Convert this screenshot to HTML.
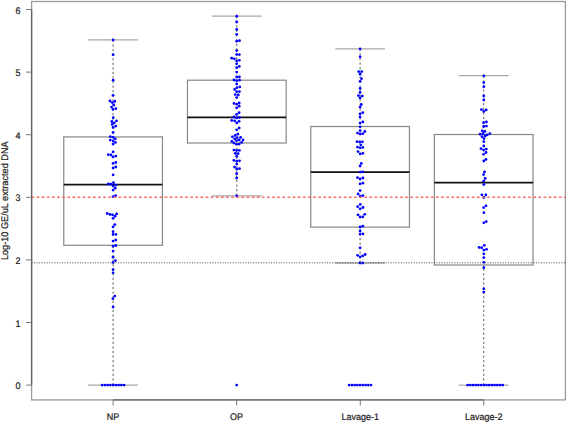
<!DOCTYPE html><html><head><meta charset="utf-8"><style>html,body{margin:0;padding:0;background:#fff;}svg{display:block;}text{font-family:"Liberation Sans",sans-serif;font-size:9.6px;text-rendering:geometricPrecision;fill:#222;stroke:#222;stroke-width:0.22px;}</style></head><body>
<svg width="567" height="423" viewBox="0 0 567 423">
<rect x="0" y="0" width="567" height="423" fill="#fff"/>
<rect x="31.6" y="1.5" width="533.8" height="398.4" fill="none" stroke="#9a9a9a" stroke-width="1.3"/>
<line x1="113.1" y1="39.9" x2="113.1" y2="136.9" stroke="#5a5a5a" stroke-width="1" stroke-dasharray="2.2 2.37"/>
<line x1="113.1" y1="385.1" x2="113.1" y2="245.3" stroke="#5a5a5a" stroke-width="1" stroke-dasharray="2.2 2.37"/>
<line x1="88.2" y1="39.9" x2="138" y2="39.9" stroke="#a8a8a8" stroke-width="1.3"/>
<line x1="88.2" y1="385.1" x2="138" y2="385.1" stroke="#a8a8a8" stroke-width="1.3"/>
<rect x="63.75" y="136.9" width="98.7" height="108.4" fill="none" stroke="#888888" stroke-width="1.2"/>
<line x1="63.75" y1="184.6" x2="162.45" y2="184.6" stroke="#111" stroke-width="1.8"/>
<line x1="236.8" y1="16.2" x2="236.8" y2="80.2" stroke="#5a5a5a" stroke-width="1" stroke-dasharray="2.2 2.37"/>
<line x1="236.8" y1="195.8" x2="236.8" y2="143" stroke="#5a5a5a" stroke-width="1" stroke-dasharray="2.2 2.37"/>
<line x1="211.9" y1="16.2" x2="261.7" y2="16.2" stroke="#a8a8a8" stroke-width="1.3"/>
<line x1="211.9" y1="195.8" x2="261.7" y2="195.8" stroke="#a8a8a8" stroke-width="1.3"/>
<rect x="187.45" y="80.2" width="98.7" height="62.8" fill="none" stroke="#888888" stroke-width="1.2"/>
<line x1="187.45" y1="117.4" x2="286.15" y2="117.4" stroke="#111" stroke-width="1.8"/>
<line x1="360.1" y1="48.8" x2="360.1" y2="126.5" stroke="#5a5a5a" stroke-width="1" stroke-dasharray="2.2 2.37"/>
<line x1="360.1" y1="263" x2="360.1" y2="227.1" stroke="#5a5a5a" stroke-width="1" stroke-dasharray="2.2 2.37"/>
<line x1="335.2" y1="48.8" x2="385" y2="48.8" stroke="#a8a8a8" stroke-width="1.3"/>
<line x1="335.2" y1="263" x2="385" y2="263" stroke="#a8a8a8" stroke-width="1.3"/>
<rect x="310.75" y="126.5" width="98.7" height="100.6" fill="none" stroke="#888888" stroke-width="1.2"/>
<line x1="310.75" y1="172.2" x2="409.45" y2="172.2" stroke="#111" stroke-width="1.8"/>
<line x1="483.7" y1="75.7" x2="483.7" y2="134.5" stroke="#5a5a5a" stroke-width="1" stroke-dasharray="2.2 2.37"/>
<line x1="483.7" y1="385.1" x2="483.7" y2="265" stroke="#5a5a5a" stroke-width="1" stroke-dasharray="2.2 2.37"/>
<line x1="458.8" y1="75.7" x2="508.6" y2="75.7" stroke="#a8a8a8" stroke-width="1.3"/>
<line x1="458.8" y1="385.1" x2="508.6" y2="385.1" stroke="#a8a8a8" stroke-width="1.3"/>
<rect x="434.35" y="134.5" width="98.7" height="130.5" fill="none" stroke="#888888" stroke-width="1.2"/>
<line x1="434.35" y1="182.7" x2="533.05" y2="182.7" stroke="#111" stroke-width="1.8"/>
<line x1="31.6" y1="9.5" x2="31.6" y2="385.1" stroke="#606060" stroke-width="1.3"/>
<line x1="113.1" y1="399.9" x2="483.7" y2="399.9" stroke="#666" stroke-width="1.3"/>
<line x1="26" y1="385.1" x2="31.6" y2="385.1" stroke="#777" stroke-width="1"/>
<text transform="translate(20.6,389.1) scale(0.9375,1)" text-anchor="end">0</text>
<line x1="26" y1="322.5" x2="31.6" y2="322.5" stroke="#777" stroke-width="1"/>
<text transform="translate(20.6,326.5) scale(0.9375,1)" text-anchor="end">1</text>
<line x1="26" y1="259.9" x2="31.6" y2="259.9" stroke="#777" stroke-width="1"/>
<text transform="translate(20.6,263.9) scale(0.9375,1)" text-anchor="end">2</text>
<line x1="26" y1="197.3" x2="31.6" y2="197.3" stroke="#777" stroke-width="1"/>
<text transform="translate(20.6,201.3) scale(0.9375,1)" text-anchor="end">3</text>
<line x1="26" y1="134.7" x2="31.6" y2="134.7" stroke="#777" stroke-width="1"/>
<text transform="translate(20.6,138.7) scale(0.9375,1)" text-anchor="end">4</text>
<line x1="26" y1="72.1" x2="31.6" y2="72.1" stroke="#777" stroke-width="1"/>
<text transform="translate(20.6,76.1) scale(0.9375,1)" text-anchor="end">5</text>
<line x1="26" y1="9.5" x2="31.6" y2="9.5" stroke="#777" stroke-width="1"/>
<text transform="translate(20.6,13.5) scale(0.9375,1)" text-anchor="end">6</text>
<line x1="113.1" y1="399.9" x2="113.1" y2="405.5" stroke="#777" stroke-width="1"/>
<text transform="translate(113.1,419.5) scale(0.9375,1)" text-anchor="middle">NP</text>
<line x1="236.6" y1="399.9" x2="236.6" y2="405.5" stroke="#777" stroke-width="1"/>
<text transform="translate(236.6,419.5) scale(0.9375,1)" text-anchor="middle">OP</text>
<line x1="360.3" y1="399.9" x2="360.3" y2="405.5" stroke="#777" stroke-width="1"/>
<text transform="translate(360.3,419.5) scale(0.9375,1)" text-anchor="middle">Lavage-1</text>
<line x1="483.7" y1="399.9" x2="483.7" y2="405.5" stroke="#777" stroke-width="1"/>
<text transform="translate(483.7,419.5) scale(0.9375,1)" text-anchor="middle">Lavage-2</text>
<text transform="translate(8.0,200.75) rotate(-90) scale(0.954,1)" text-anchor="middle">Log-10 GE/uL extracted DNA</text>
<circle cx="113.1" cy="39.9" r="1.4" fill="#0000ff"/>
<circle cx="113.1" cy="54.7" r="1.4" fill="#0000ff"/>
<circle cx="113.1" cy="80.2" r="1.4" fill="#0000ff"/>
<circle cx="113.1" cy="95.3" r="1.4" fill="#0000ff"/>
<circle cx="110" cy="101" r="1.4" fill="#0000ff"/>
<circle cx="114.8" cy="101.4" r="1.4" fill="#0000ff"/>
<circle cx="112.3" cy="102.6" r="1.4" fill="#0000ff"/>
<circle cx="113.8" cy="105" r="1.4" fill="#0000ff"/>
<circle cx="111.5" cy="107.1" r="1.4" fill="#0000ff"/>
<circle cx="115.8" cy="108.7" r="1.4" fill="#0000ff"/>
<circle cx="113" cy="109.4" r="1.4" fill="#0000ff"/>
<circle cx="113.2" cy="117.7" r="1.4" fill="#0000ff"/>
<circle cx="116.5" cy="120.8" r="1.4" fill="#0000ff"/>
<circle cx="111.8" cy="121.5" r="1.4" fill="#0000ff"/>
<circle cx="114.3" cy="122.8" r="1.4" fill="#0000ff"/>
<circle cx="112.2" cy="124.4" r="1.4" fill="#0000ff"/>
<circle cx="115.8" cy="126.1" r="1.4" fill="#0000ff"/>
<circle cx="113.2" cy="127.4" r="1.4" fill="#0000ff"/>
<circle cx="113.1" cy="132.5" r="1.4" fill="#0000ff"/>
<circle cx="110.3" cy="136.7" r="1.4" fill="#0000ff"/>
<circle cx="113.1" cy="137.3" r="1.4" fill="#0000ff"/>
<circle cx="115.3" cy="138.8" r="1.4" fill="#0000ff"/>
<circle cx="110.3" cy="140.1" r="1.4" fill="#0000ff"/>
<circle cx="113.1" cy="140.8" r="1.4" fill="#0000ff"/>
<circle cx="115.4" cy="142.4" r="1.4" fill="#0000ff"/>
<circle cx="113.1" cy="144" r="1.4" fill="#0000ff"/>
<circle cx="113.1" cy="151.9" r="1.4" fill="#0000ff"/>
<circle cx="108.3" cy="154.7" r="1.4" fill="#0000ff"/>
<circle cx="111" cy="155" r="1.4" fill="#0000ff"/>
<circle cx="113.1" cy="156.9" r="1.4" fill="#0000ff"/>
<circle cx="115.8" cy="156.1" r="1.4" fill="#0000ff"/>
<circle cx="113.1" cy="163.4" r="1.4" fill="#0000ff"/>
<circle cx="115.8" cy="162.5" r="1.4" fill="#0000ff"/>
<circle cx="113.1" cy="168" r="1.4" fill="#0000ff"/>
<circle cx="115.8" cy="167" r="1.4" fill="#0000ff"/>
<circle cx="113.1" cy="174.8" r="1.4" fill="#0000ff"/>
<circle cx="108.3" cy="183.9" r="1.4" fill="#0000ff"/>
<circle cx="110.8" cy="184.1" r="1.4" fill="#0000ff"/>
<circle cx="113.5" cy="182.7" r="1.4" fill="#0000ff"/>
<circle cx="113.1" cy="186" r="1.4" fill="#0000ff"/>
<circle cx="115.8" cy="185.1" r="1.4" fill="#0000ff"/>
<circle cx="115.2" cy="188.2" r="1.4" fill="#0000ff"/>
<circle cx="113.1" cy="190.1" r="1.4" fill="#0000ff"/>
<circle cx="115.7" cy="195.6" r="1.4" fill="#0000ff"/>
<circle cx="113.1" cy="196.6" r="1.4" fill="#0000ff"/>
<circle cx="107.2" cy="213.5" r="1.4" fill="#0000ff"/>
<circle cx="110" cy="214.4" r="1.4" fill="#0000ff"/>
<circle cx="112.6" cy="214.8" r="1.4" fill="#0000ff"/>
<circle cx="116.6" cy="213.9" r="1.4" fill="#0000ff"/>
<circle cx="115.1" cy="216.2" r="1.4" fill="#0000ff"/>
<circle cx="113.1" cy="218.3" r="1.4" fill="#0000ff"/>
<circle cx="114.8" cy="224.6" r="1.4" fill="#0000ff"/>
<circle cx="113.1" cy="226.9" r="1.4" fill="#0000ff"/>
<circle cx="113.1" cy="231.7" r="1.4" fill="#0000ff"/>
<circle cx="113.1" cy="234.5" r="1.4" fill="#0000ff"/>
<circle cx="115.9" cy="234.4" r="1.4" fill="#0000ff"/>
<circle cx="115.8" cy="240" r="1.4" fill="#0000ff"/>
<circle cx="113.1" cy="241.1" r="1.4" fill="#0000ff"/>
<circle cx="113.1" cy="246.2" r="1.4" fill="#0000ff"/>
<circle cx="115.8" cy="245.5" r="1.4" fill="#0000ff"/>
<circle cx="113.1" cy="251.1" r="1.4" fill="#0000ff"/>
<circle cx="113.1" cy="257.2" r="1.4" fill="#0000ff"/>
<circle cx="115.4" cy="260.6" r="1.4" fill="#0000ff"/>
<circle cx="113.1" cy="262.5" r="1.4" fill="#0000ff"/>
<circle cx="113.1" cy="269.7" r="1.4" fill="#0000ff"/>
<circle cx="113.1" cy="272.8" r="1.4" fill="#0000ff"/>
<circle cx="114.8" cy="296.1" r="1.4" fill="#0000ff"/>
<circle cx="112.9" cy="298.7" r="1.4" fill="#0000ff"/>
<circle cx="113.1" cy="307" r="1.4" fill="#0000ff"/>
<circle cx="102.16" cy="385.1" r="1.4" fill="#0000ff"/>
<circle cx="104.9" cy="385.1" r="1.4" fill="#0000ff"/>
<circle cx="107.64" cy="385.1" r="1.4" fill="#0000ff"/>
<circle cx="110.38" cy="385.1" r="1.4" fill="#0000ff"/>
<circle cx="113.12" cy="385.1" r="1.4" fill="#0000ff"/>
<circle cx="115.86" cy="385.1" r="1.4" fill="#0000ff"/>
<circle cx="118.6" cy="385.1" r="1.4" fill="#0000ff"/>
<circle cx="121.34" cy="385.1" r="1.4" fill="#0000ff"/>
<circle cx="124.08" cy="385.1" r="1.4" fill="#0000ff"/>
<circle cx="236.7" cy="16.2" r="1.4" fill="#0000ff"/>
<circle cx="236.7" cy="22" r="1.4" fill="#0000ff"/>
<circle cx="236.7" cy="29.4" r="1.4" fill="#0000ff"/>
<circle cx="236.7" cy="34.3" r="1.4" fill="#0000ff"/>
<circle cx="236.7" cy="41.2" r="1.4" fill="#0000ff"/>
<circle cx="239.5" cy="40.7" r="1.4" fill="#0000ff"/>
<circle cx="236.7" cy="50.6" r="1.4" fill="#0000ff"/>
<circle cx="236.7" cy="54.6" r="1.4" fill="#0000ff"/>
<circle cx="239.4" cy="54.6" r="1.4" fill="#0000ff"/>
<circle cx="231.7" cy="58.2" r="1.4" fill="#0000ff"/>
<circle cx="234.4" cy="58.8" r="1.4" fill="#0000ff"/>
<circle cx="236.7" cy="60.8" r="1.4" fill="#0000ff"/>
<circle cx="239.3" cy="60.3" r="1.4" fill="#0000ff"/>
<circle cx="236.7" cy="63.8" r="1.4" fill="#0000ff"/>
<circle cx="239.3" cy="66.4" r="1.4" fill="#0000ff"/>
<circle cx="236.7" cy="67.7" r="1.4" fill="#0000ff"/>
<circle cx="236.7" cy="72.1" r="1.4" fill="#0000ff"/>
<circle cx="236.7" cy="77" r="1.4" fill="#0000ff"/>
<circle cx="239.4" cy="77" r="1.4" fill="#0000ff"/>
<circle cx="234" cy="80" r="1.4" fill="#0000ff"/>
<circle cx="236.7" cy="80.7" r="1.4" fill="#0000ff"/>
<circle cx="239.5" cy="80.2" r="1.4" fill="#0000ff"/>
<circle cx="236.7" cy="83.9" r="1.4" fill="#0000ff"/>
<circle cx="239.8" cy="86.9" r="1.4" fill="#0000ff"/>
<circle cx="236.9" cy="87.7" r="1.4" fill="#0000ff"/>
<circle cx="234.7" cy="89.4" r="1.4" fill="#0000ff"/>
<circle cx="236.7" cy="91.7" r="1.4" fill="#0000ff"/>
<circle cx="239.4" cy="91.6" r="1.4" fill="#0000ff"/>
<circle cx="235.3" cy="94.6" r="1.4" fill="#0000ff"/>
<circle cx="238.3" cy="95" r="1.4" fill="#0000ff"/>
<circle cx="236.7" cy="97.6" r="1.4" fill="#0000ff"/>
<circle cx="234" cy="103.4" r="1.4" fill="#0000ff"/>
<circle cx="236.7" cy="104.2" r="1.4" fill="#0000ff"/>
<circle cx="239.2" cy="103" r="1.4" fill="#0000ff"/>
<circle cx="239.2" cy="106.2" r="1.4" fill="#0000ff"/>
<circle cx="236.7" cy="107.8" r="1.4" fill="#0000ff"/>
<circle cx="239.1" cy="112.7" r="1.4" fill="#0000ff"/>
<circle cx="236.7" cy="114.4" r="1.4" fill="#0000ff"/>
<circle cx="234" cy="117" r="1.4" fill="#0000ff"/>
<circle cx="236.7" cy="117.9" r="1.4" fill="#0000ff"/>
<circle cx="239.5" cy="117.5" r="1.4" fill="#0000ff"/>
<circle cx="231.7" cy="120.4" r="1.4" fill="#0000ff"/>
<circle cx="234.6" cy="120.8" r="1.4" fill="#0000ff"/>
<circle cx="236.7" cy="122.9" r="1.4" fill="#0000ff"/>
<circle cx="239.1" cy="121.3" r="1.4" fill="#0000ff"/>
<circle cx="239.2" cy="128" r="1.4" fill="#0000ff"/>
<circle cx="236.7" cy="129.8" r="1.4" fill="#0000ff"/>
<circle cx="237.8" cy="134.2" r="1.4" fill="#0000ff"/>
<circle cx="235.2" cy="135.4" r="1.4" fill="#0000ff"/>
<circle cx="232.4" cy="136.8" r="1.4" fill="#0000ff"/>
<circle cx="237.1" cy="137.7" r="1.4" fill="#0000ff"/>
<circle cx="240.6" cy="137.4" r="1.4" fill="#0000ff"/>
<circle cx="234.6" cy="138.9" r="1.4" fill="#0000ff"/>
<circle cx="239.2" cy="140" r="1.4" fill="#0000ff"/>
<circle cx="243.1" cy="139.9" r="1.4" fill="#0000ff"/>
<circle cx="236.5" cy="140.6" r="1.4" fill="#0000ff"/>
<circle cx="231.8" cy="141.4" r="1.4" fill="#0000ff"/>
<circle cx="233.9" cy="143" r="1.4" fill="#0000ff"/>
<circle cx="241.7" cy="142.3" r="1.4" fill="#0000ff"/>
<circle cx="236.5" cy="144.2" r="1.4" fill="#0000ff"/>
<circle cx="239.2" cy="144.1" r="1.4" fill="#0000ff"/>
<circle cx="233.9" cy="150.1" r="1.4" fill="#0000ff"/>
<circle cx="236.6" cy="150.5" r="1.4" fill="#0000ff"/>
<circle cx="239.4" cy="150.4" r="1.4" fill="#0000ff"/>
<circle cx="235.3" cy="153.4" r="1.4" fill="#0000ff"/>
<circle cx="238.1" cy="153.7" r="1.4" fill="#0000ff"/>
<circle cx="236.7" cy="156.3" r="1.4" fill="#0000ff"/>
<circle cx="233.9" cy="160.4" r="1.4" fill="#0000ff"/>
<circle cx="236.7" cy="161.1" r="1.4" fill="#0000ff"/>
<circle cx="239.5" cy="160.8" r="1.4" fill="#0000ff"/>
<circle cx="236.7" cy="164.1" r="1.4" fill="#0000ff"/>
<circle cx="234.5" cy="167.1" r="1.4" fill="#0000ff"/>
<circle cx="236.7" cy="169" r="1.4" fill="#0000ff"/>
<circle cx="239.5" cy="168.7" r="1.4" fill="#0000ff"/>
<circle cx="236.7" cy="173.7" r="1.4" fill="#0000ff"/>
<circle cx="236.7" cy="178" r="1.4" fill="#0000ff"/>
<circle cx="236.7" cy="195.8" r="1.4" fill="#0000ff"/>
<circle cx="236.7" cy="385.1" r="1.4" fill="#0000ff"/>
<circle cx="360.1" cy="48.8" r="1.4" fill="#0000ff"/>
<circle cx="360.1" cy="56.8" r="1.4" fill="#0000ff"/>
<circle cx="358.7" cy="71.6" r="1.4" fill="#0000ff"/>
<circle cx="361.8" cy="71.6" r="1.4" fill="#0000ff"/>
<circle cx="360.1" cy="74.2" r="1.4" fill="#0000ff"/>
<circle cx="361.5" cy="78.7" r="1.4" fill="#0000ff"/>
<circle cx="360.1" cy="81.3" r="1.4" fill="#0000ff"/>
<circle cx="360.1" cy="88.5" r="1.4" fill="#0000ff"/>
<circle cx="360.1" cy="92.5" r="1.4" fill="#0000ff"/>
<circle cx="358.4" cy="95.6" r="1.4" fill="#0000ff"/>
<circle cx="362.3" cy="96.1" r="1.4" fill="#0000ff"/>
<circle cx="360.1" cy="97.9" r="1.4" fill="#0000ff"/>
<circle cx="361.3" cy="104.5" r="1.4" fill="#0000ff"/>
<circle cx="360.1" cy="107.1" r="1.4" fill="#0000ff"/>
<circle cx="362.8" cy="112.7" r="1.4" fill="#0000ff"/>
<circle cx="360.1" cy="113.9" r="1.4" fill="#0000ff"/>
<circle cx="360.1" cy="117" r="1.4" fill="#0000ff"/>
<circle cx="362.8" cy="121.9" r="1.4" fill="#0000ff"/>
<circle cx="360.1" cy="123.1" r="1.4" fill="#0000ff"/>
<circle cx="360.1" cy="126.8" r="1.4" fill="#0000ff"/>
<circle cx="360.1" cy="130.6" r="1.4" fill="#0000ff"/>
<circle cx="364.8" cy="131.5" r="1.4" fill="#0000ff"/>
<circle cx="357.5" cy="133.1" r="1.4" fill="#0000ff"/>
<circle cx="360.1" cy="134" r="1.4" fill="#0000ff"/>
<circle cx="362.8" cy="133.7" r="1.4" fill="#0000ff"/>
<circle cx="357" cy="141.7" r="1.4" fill="#0000ff"/>
<circle cx="359.7" cy="142" r="1.4" fill="#0000ff"/>
<circle cx="362.4" cy="141.8" r="1.4" fill="#0000ff"/>
<circle cx="360.8" cy="144.8" r="1.4" fill="#0000ff"/>
<circle cx="357.5" cy="147.1" r="1.4" fill="#0000ff"/>
<circle cx="360.1" cy="147.8" r="1.4" fill="#0000ff"/>
<circle cx="362.8" cy="147.4" r="1.4" fill="#0000ff"/>
<circle cx="358" cy="151.6" r="1.4" fill="#0000ff"/>
<circle cx="360.2" cy="153.9" r="1.4" fill="#0000ff"/>
<circle cx="362.9" cy="153.3" r="1.4" fill="#0000ff"/>
<circle cx="361.3" cy="163.4" r="1.4" fill="#0000ff"/>
<circle cx="360.1" cy="166" r="1.4" fill="#0000ff"/>
<circle cx="360.1" cy="172.1" r="1.4" fill="#0000ff"/>
<circle cx="362.9" cy="171.8" r="1.4" fill="#0000ff"/>
<circle cx="357.5" cy="177.7" r="1.4" fill="#0000ff"/>
<circle cx="360.1" cy="179" r="1.4" fill="#0000ff"/>
<circle cx="362.9" cy="178" r="1.4" fill="#0000ff"/>
<circle cx="360.1" cy="183.8" r="1.4" fill="#0000ff"/>
<circle cx="362.9" cy="183.2" r="1.4" fill="#0000ff"/>
<circle cx="360.1" cy="190.6" r="1.4" fill="#0000ff"/>
<circle cx="358.1" cy="193.9" r="1.4" fill="#0000ff"/>
<circle cx="360.1" cy="196.1" r="1.4" fill="#0000ff"/>
<circle cx="362.9" cy="195.6" r="1.4" fill="#0000ff"/>
<circle cx="360.3" cy="204.4" r="1.4" fill="#0000ff"/>
<circle cx="357.7" cy="206.7" r="1.4" fill="#0000ff"/>
<circle cx="363" cy="207.5" r="1.4" fill="#0000ff"/>
<circle cx="360.2" cy="208.8" r="1.4" fill="#0000ff"/>
<circle cx="358" cy="214.8" r="1.4" fill="#0000ff"/>
<circle cx="364.7" cy="214.3" r="1.4" fill="#0000ff"/>
<circle cx="360.1" cy="217" r="1.4" fill="#0000ff"/>
<circle cx="362.8" cy="216.9" r="1.4" fill="#0000ff"/>
<circle cx="360.1" cy="226.9" r="1.4" fill="#0000ff"/>
<circle cx="362.8" cy="226.2" r="1.4" fill="#0000ff"/>
<circle cx="360.1" cy="231" r="1.4" fill="#0000ff"/>
<circle cx="360.1" cy="234.1" r="1.4" fill="#0000ff"/>
<circle cx="362.9" cy="233.9" r="1.4" fill="#0000ff"/>
<circle cx="360.1" cy="247.8" r="1.4" fill="#0000ff"/>
<circle cx="357.6" cy="255.3" r="1.4" fill="#0000ff"/>
<circle cx="360.1" cy="256.8" r="1.4" fill="#0000ff"/>
<circle cx="362.7" cy="255.9" r="1.4" fill="#0000ff"/>
<circle cx="365.2" cy="254.5" r="1.4" fill="#0000ff"/>
<circle cx="360.1" cy="263" r="1.4" fill="#0000ff"/>
<circle cx="362.8" cy="263" r="1.4" fill="#0000ff"/>
<circle cx="349.09" cy="385.1" r="1.4" fill="#0000ff"/>
<circle cx="351.83" cy="385.1" r="1.4" fill="#0000ff"/>
<circle cx="354.57" cy="385.1" r="1.4" fill="#0000ff"/>
<circle cx="357.31" cy="385.1" r="1.4" fill="#0000ff"/>
<circle cx="360.05" cy="385.1" r="1.4" fill="#0000ff"/>
<circle cx="362.79" cy="385.1" r="1.4" fill="#0000ff"/>
<circle cx="365.53" cy="385.1" r="1.4" fill="#0000ff"/>
<circle cx="368.27" cy="385.1" r="1.4" fill="#0000ff"/>
<circle cx="371.01" cy="385.1" r="1.4" fill="#0000ff"/>
<circle cx="483.8" cy="75.8" r="1.4" fill="#0000ff"/>
<circle cx="483.8" cy="82.6" r="1.4" fill="#0000ff"/>
<circle cx="483.8" cy="86.7" r="1.4" fill="#0000ff"/>
<circle cx="483.8" cy="96" r="1.4" fill="#0000ff"/>
<circle cx="483.8" cy="100" r="1.4" fill="#0000ff"/>
<circle cx="481.4" cy="109.6" r="1.4" fill="#0000ff"/>
<circle cx="486.2" cy="109.9" r="1.4" fill="#0000ff"/>
<circle cx="483.8" cy="111.4" r="1.4" fill="#0000ff"/>
<circle cx="486.4" cy="121.9" r="1.4" fill="#0000ff"/>
<circle cx="483.6" cy="122.7" r="1.4" fill="#0000ff"/>
<circle cx="483.6" cy="126.5" r="1.4" fill="#0000ff"/>
<circle cx="486.4" cy="126.1" r="1.4" fill="#0000ff"/>
<circle cx="482.2" cy="130.8" r="1.4" fill="#0000ff"/>
<circle cx="484.8" cy="131.5" r="1.4" fill="#0000ff"/>
<circle cx="480.1" cy="134.2" r="1.4" fill="#0000ff"/>
<circle cx="483" cy="133.7" r="1.4" fill="#0000ff"/>
<circle cx="487.2" cy="134.9" r="1.4" fill="#0000ff"/>
<circle cx="489.9" cy="133.6" r="1.4" fill="#0000ff"/>
<circle cx="485.1" cy="135.9" r="1.4" fill="#0000ff"/>
<circle cx="482" cy="136.7" r="1.4" fill="#0000ff"/>
<circle cx="484" cy="138.6" r="1.4" fill="#0000ff"/>
<circle cx="483.8" cy="141.7" r="1.4" fill="#0000ff"/>
<circle cx="483.8" cy="145.9" r="1.4" fill="#0000ff"/>
<circle cx="481" cy="148.7" r="1.4" fill="#0000ff"/>
<circle cx="483.6" cy="150" r="1.4" fill="#0000ff"/>
<circle cx="486.3" cy="149.1" r="1.4" fill="#0000ff"/>
<circle cx="486" cy="152.5" r="1.4" fill="#0000ff"/>
<circle cx="483.6" cy="154.3" r="1.4" fill="#0000ff"/>
<circle cx="486" cy="159.4" r="1.4" fill="#0000ff"/>
<circle cx="483.8" cy="161" r="1.4" fill="#0000ff"/>
<circle cx="484.5" cy="171.9" r="1.4" fill="#0000ff"/>
<circle cx="483.6" cy="174.6" r="1.4" fill="#0000ff"/>
<circle cx="485.2" cy="178.5" r="1.4" fill="#0000ff"/>
<circle cx="483.6" cy="181.1" r="1.4" fill="#0000ff"/>
<circle cx="483.8" cy="184.6" r="1.4" fill="#0000ff"/>
<circle cx="481.9" cy="194.8" r="1.4" fill="#0000ff"/>
<circle cx="485.8" cy="195" r="1.4" fill="#0000ff"/>
<circle cx="483.8" cy="197.5" r="1.4" fill="#0000ff"/>
<circle cx="486" cy="205.8" r="1.4" fill="#0000ff"/>
<circle cx="483.6" cy="207.6" r="1.4" fill="#0000ff"/>
<circle cx="483.9" cy="212.7" r="1.4" fill="#0000ff"/>
<circle cx="486.2" cy="221.6" r="1.4" fill="#0000ff"/>
<circle cx="483.8" cy="222.8" r="1.4" fill="#0000ff"/>
<circle cx="484.3" cy="245.3" r="1.4" fill="#0000ff"/>
<circle cx="479.1" cy="247.4" r="1.4" fill="#0000ff"/>
<circle cx="481.7" cy="247.7" r="1.4" fill="#0000ff"/>
<circle cx="483.8" cy="250.1" r="1.4" fill="#0000ff"/>
<circle cx="486.5" cy="249.3" r="1.4" fill="#0000ff"/>
<circle cx="483.8" cy="253.8" r="1.4" fill="#0000ff"/>
<circle cx="483.8" cy="257.6" r="1.4" fill="#0000ff"/>
<circle cx="483.8" cy="262.3" r="1.4" fill="#0000ff"/>
<circle cx="483.8" cy="267.7" r="1.4" fill="#0000ff"/>
<circle cx="483.8" cy="288.8" r="1.4" fill="#0000ff"/>
<circle cx="483.8" cy="292.1" r="1.4" fill="#0000ff"/>
<circle cx="467.6" cy="385.1" r="1.4" fill="#0000ff"/>
<circle cx="470.3" cy="385.1" r="1.4" fill="#0000ff"/>
<circle cx="473" cy="385.1" r="1.4" fill="#0000ff"/>
<circle cx="475.7" cy="385.1" r="1.4" fill="#0000ff"/>
<circle cx="478.4" cy="385.1" r="1.4" fill="#0000ff"/>
<circle cx="481.1" cy="385.1" r="1.4" fill="#0000ff"/>
<circle cx="483.8" cy="385.1" r="1.4" fill="#0000ff"/>
<circle cx="486.5" cy="385.1" r="1.4" fill="#0000ff"/>
<circle cx="489.2" cy="385.1" r="1.4" fill="#0000ff"/>
<circle cx="491.9" cy="385.1" r="1.4" fill="#0000ff"/>
<circle cx="494.6" cy="385.1" r="1.4" fill="#0000ff"/>
<circle cx="497.3" cy="385.1" r="1.4" fill="#0000ff"/>
<circle cx="500" cy="385.1" r="1.4" fill="#0000ff"/>
<circle cx="502.7" cy="385.1" r="1.4" fill="#0000ff"/>
<line x1="31.5" y1="197.3" x2="565.4" y2="197.3" stroke="#ff5a5a" stroke-width="1.4" stroke-dasharray="2.75 2.37" stroke-opacity="0.9"/>
<line x1="31.4" y1="262.8" x2="565.4" y2="262.8" stroke="#555" stroke-width="1" stroke-dasharray="1.1 1.448"/>
</svg></body></html>
